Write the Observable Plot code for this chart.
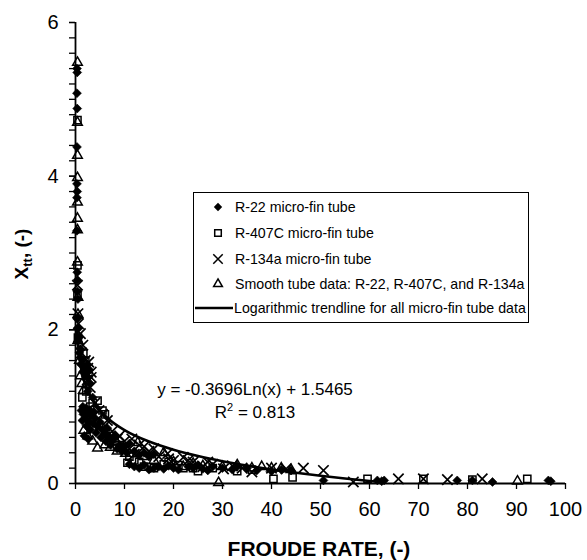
<!DOCTYPE html>
<html><head><meta charset="utf-8">
<script src="https://cdn.jsdelivr.net/npm/d3@7"></script>
<script src="https://cdn.jsdelivr.net/npm/@observablehq/plot@0.6"></script>
<style>
body{margin:0;background:#fff}
svg{font-family:"Liberation Sans", Arial, sans-serif}
</style>
</head><body><div id="chart"></div>
<script>
// R-22 micro-fin tube [Froude rate, Xtt]
const r22 = [
[0.3,5.40],[0.35,5.35],[0.3,5.08],[0.35,4.88],[0.3,4.38],[0.3,3.90],[0.35,3.80],[0.3,3.72],[0.3,3.29],[0.35,2.75],[0.4,2.65],[0.4,2.50],[0.5,2.40],[0.5,2.15],[0.6,2.02],[0.7,1.90],
[0.5,1.85],[0.8,1.70],[1.1,1.55],[1.5,1.45],[2.0,1.40],[2.4,1.55],[2.8,1.48],
[1.0,1.75],[1.3,1.62],[1.8,1.52],[2.2,1.45],[2.6,1.38],[3.0,1.30],[2.5,1.20],[3.5,1.12],
[1.2,0.95],[1.6,0.90],[2.0,0.85],[2.4,0.92],[2.8,0.80],[3.2,0.88],[3.6,0.78],[4.0,0.85],[4.5,0.74],[5.0,0.80],[5.5,0.70],[6.0,0.65],[6.5,0.72],[7.0,0.60],[7.5,0.55],[8.0,0.62],[9.0,0.50],[10,0.48],[11,0.52],[12,0.42],[13,0.37],[14,0.40],[15,0.35],[16,0.38],
[1.5,1.00],[2.2,0.98],[3.0,0.95],[3.8,0.93],[1.4,0.82],[2.2,0.75],[3.0,0.70],[4.2,0.66],[5.2,0.60],[6.2,0.55],[7.2,0.50],[8.5,0.45],[9.5,0.42],[10.5,0.40],[1.8,0.62],[2.6,0.58],
[11,0.25],[12,0.22],[13,0.20],[14,0.24],[15,0.18],[16,0.20],[17,0.22],[18,0.19],[19,0.23],[20,0.20],[21,0.18],[23,0.22],[24,0.20],[25,0.24],[26,0.19],[27,0.17],[28,0.22],[30,0.20],[32,0.18],[33,0.22],[35,0.20],[37,0.17],[40,0.16],[42,0.18],[44,0.17],
[50.6,0.04],[61.6,0.04],[62.5,0.03],[63,0.04],[77.9,0.04],[81,0.04],[85.1,0.02],[96.5,0.04],[97,0.03]
];
// R-407C micro-fin tube
const r407c = [
[0.4,4.73],[0.4,2.84],[0.4,2.47],[0.5,1.90],[1.6,1.69],[2.0,1.60],[1.4,1.12],[2.2,1.20],[3.5,1.05],[4.5,1.08],[3.0,1.00],[5.5,0.95],[6,0.90],[7,0.62],[8,0.55],[9,0.50],[10.6,0.27],[11,0.35],[12,0.30],[13,0.28],[14,0.22],[16,0.20],[18,0.25],[19,0.28],[21,0.24],[22,0.20],[24,0.20],[25,0.16],[28,0.20],[33,0.16],[36,0.18],[40.4,0.06],[44.3,0.08],[59.6,0.06],[71.0,0.06],[81,0.05],[92.2,0.06]
];
// R-134a micro-fin tube
const r134a = [
[0.4,2.58],[0.5,2.21],[0.6,2.08],[1.0,1.95],[1.5,1.80],[1.2,1.70],[2.0,1.60],[2.5,1.50],[3.2,1.38],[2.7,1.58],[3.2,1.45],[2.4,1.35],[3.0,1.25],[4.0,1.05],[4.8,0.95],[5.5,0.90],[6.5,0.82],[6.0,0.75],[7.5,0.68],[8.5,0.58],[9,0.62],[10,0.55],[11.5,0.58],[11,0.45],[12,0.38],[13,0.50],[14,0.48],[15,0.42],[16,0.45],[17,0.35],[18.8,0.39],[19,0.32],[20,0.30],[22,0.34],[23,0.30],[24,0.28],[26,0.22],[27,0.28],[28,0.25],[30.2,0.19],[32,0.23],[34,0.20],[36,0.15],[40,0.20],[43,0.19],[46.5,0.20],[50.6,0.17],[56.7,0.02],[65.9,0.06],[71.0,0.06],[75.9,0.05],[83,0.06]
];
// Smooth tube data: R-22, R-407C, R-134a
const smooth = [
[0.4,5.48],[0.4,4.70],[0.4,4.27],[0.4,3.98],[0.4,3.66],[0.4,3.45],[0.4,3.30],[0.4,2.88],[0.5,2.42],[0.5,2.20],[0.5,1.86],[0.8,1.60],[1.0,1.40],[1.3,1.30],[1.6,1.21],[1.7,0.69],[2.5,0.62],[3.5,0.55],[4.5,0.46],[6,0.50],[7.1,0.47],[8.5,0.42],[10.2,0.39],[12.7,0.53],[14,0.35],[16,0.30],[18,0.40],[20,0.28],[22,0.22],[24,0.26],[26,0.23],[29.2,0.01],[30,0.22],[33,0.24],[36,0.20],[38,0.22],[40,0.20],[42,0.20],[44,0.18],[90.2,0.03]
];
// Logarithmic trendline y = -0.3696 ln(x) + 1.5465
const trendX = [0.3,0.45,0.6,0.8,1,1.5,2,3,4,5,7,10,15,20,25,30,35,40,45,50,55,60,63];
const trendY = [1.9915,1.8416,1.7353,1.6290,1.5465,1.3966,1.2903,1.1405,1.0341,0.9517,0.8273,0.6955,0.5456,0.4393,0.3568,0.2894,0.2325,0.1831,0.1395,0.1006,0.0654,0.0332,0.0152];

const xTicks = [0,10,20,30,40,50,60,70,80,90,100];
const yTicks = [0,2,4,6];
const yMinorTicks = [0,0.2,0.4,0.6,0.8,1,1.2,1.4,1.6,1.8,2,2.2,2.4,2.6,2.8,3,3.2,3.4,3.6,3.8,4,4.2,4.4,4.6,4.8,5,5.2,5.4,5.6,5.8,6];

const legendLabels = ["R-22 micro-fin tube","R-407C micro-fin tube","R-134a micro-fin tube","Smooth tube data: R-22, R-407C, and R-134a","Logarithmic trendline for all micro-fin tube data"];
const equationText = "y = -0.3696Ln(x) + 1.5465";
const r2Text = "0.813";

const toObj = a => a.map(([x,y]) => ({x,y}));
const trend = trendX.map((x,i) => ({x, y: trendY[i]}));

const chart = Plot.plot({
  width: 587, height: 560,
  marginLeft: 75, marginRight: 22, marginTop: 22, marginBottom: 77,
  style: {fontFamily: "Liberation Sans, Arial, sans-serif", background: "#fff", color: "#000", overflow: "visible"},
  x: {domain: [0,100]},
  y: {domain: [0,6]},
  marks: [
    Plot.axisY({ticks: yMinorTicks, tickSize: 6, tickFormat: () => "", strokeWidth: 1.3, label: null}),
    Plot.axisY({ticks: yTicks, tickSize: 6, tickPadding: 11, fontSize: 20, tickFormat: d => String(d), strokeWidth: 1.3, label: null}),
    Plot.axisX({ticks: xTicks, tickSize: 6, tickPadding: 12, fontSize: 20, tickFormat: d => String(d), strokeWidth: 1.3, label: null}),
    Plot.ruleX([0], {y1: 0, y2: 6, strokeWidth: 1.8}),
    Plot.ruleY([0], {x1: 0, x2: 100, strokeWidth: 1.8}),
    Plot.dot(toObj(r22), {x: "x", y: "y", symbol: "diamond2", r: 4, fill: "#000", stroke: "#000", strokeWidth: 0.6}),
    Plot.dot(toObj(r407c), {x: "x", y: "y", symbol: "square2", r: 4.6, fill: "none", stroke: "#000", strokeWidth: 1.5}),
    Plot.dot(toObj(r134a), {x: "x", y: "y", symbol: "times", r: 4.8, stroke: "#000", strokeWidth: 1.7}),
    Plot.dot(toObj(smooth), {x: "x", y: "y", symbol: "triangle2", r: 4.6, fill: "none", stroke: "#000", strokeWidth: 1.5}),
    Plot.line(trend, {x: "x", y: "y", stroke: "#000", strokeWidth: 2.6, curve: "monotone-x"})
  ]
});

const svg = d3.select(chart);

// Y axis title with subscript
const yt = svg.append("text")
  .attr("transform", "translate(28,254) rotate(-90)")
  .attr("text-anchor", "middle")
  .attr("font-size", 19).attr("font-weight", "bold").attr("fill", "#000");
yt.append("tspan").text("X");
yt.append("tspan").attr("font-size", 13).attr("dy", 4).text("tt");
yt.append("tspan").attr("dy", -4).text(", (-)");

// X axis title
svg.append("text").attr("x", 319).attr("y", 556).attr("text-anchor", "middle")
  .attr("font-size", 21).attr("font-weight", "bold").attr("fill", "#000")
  .text("FROUDE RATE, (-)");

// Equation
svg.append("text").attr("x", 255).attr("y", 395).attr("text-anchor", "middle").attr("font-size", 17).attr("fill", "#000").text(equationText);
const r2 = svg.append("text").attr("x", 255).attr("y", 418).attr("text-anchor", "middle").attr("font-size", 17).attr("fill", "#000");
r2.append("tspan").text("R");
r2.append("tspan").attr("font-size", 11).attr("dy", -7).text("2");
r2.append("tspan").attr("dy", 7).text(" = " + r2Text);

// Legend
const lg = svg.append("g").attr("text-anchor", "start");
lg.append("rect").attr("x", 193.5).attr("y", 192.5).attr("width", 335).attr("height", 130)
  .attr("fill", "#fff").attr("stroke", "#000").attr("stroke-width", 1);
const rowY = [207, 233, 259, 284, 308];
const syms = [
  {t: d3.symbolDiamond2, fill: "#000", stroke: "none", size: 45},
  {t: d3.symbolSquare2, fill: "none", stroke: "#000", size: 55},
  {t: d3.symbolTimes, fill: "none", stroke: "#000", size: 60},
  {t: d3.symbolTriangle2, fill: "none", stroke: "#000", size: 55}
];
syms.forEach((s, i) => {
  lg.append("path").attr("d", d3.symbol(s.t, s.size)())
    .attr("transform", `translate(218,${rowY[i]})`)
    .attr("fill", s.fill).attr("stroke", s.stroke).attr("stroke-width", 1.5);
});
lg.append("line").attr("x1", 195).attr("x2", 233).attr("y1", rowY[4]).attr("y2", rowY[4])
  .attr("stroke", "#000").attr("stroke-width", 2.6);
legendLabels.forEach((t, i) => {
  lg.append("text").attr("x", i === 4 ? 234 : 235).attr("y", rowY[i] + 5)
    .attr("text-anchor", "start").attr("font-size", 14.2).attr("fill", "#000").text(t);
});

document.getElementById("chart").append(chart);
</script>
</body></html>
